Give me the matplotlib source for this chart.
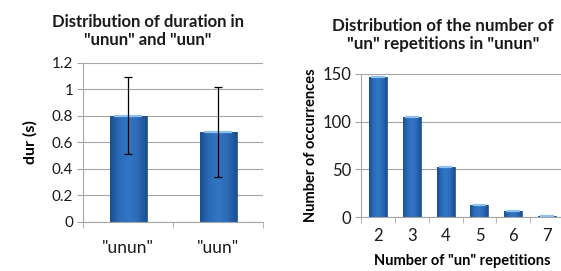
import matplotlib
matplotlib.use("Agg")
import matplotlib.pyplot as plt
import numpy as np
from matplotlib.colors import LinearSegmentedColormap

plt.rcParams["font.family"] = ["Lato", "DejaVu Sans"]

# Left chart data
dur_labels = ['"unun"', '"uun"']
dur_means = [0.80, 0.68]
dur_err = [0.29, 0.34]

# Right chart data
rep_labels = ["2", "3", "4", "5", "6", "7"]
rep_counts = [147, 105, 53, 13, 6, 1]

EDGE = "#1d4f8f"
GRID = "#a6a6a6"
TEXT = "#1a1a1a"

# horizontal shading across a bar, Excel-like
BAR_CMAP = LinearSegmentedColormap.from_list(
    "bar", ["#1c4f90", "#2c6bb8", "#3276c4", "#2c6bb8", "#1c4f90"])

fig = plt.figure(figsize=(5.61, 2.71), dpi=100)
fig.patch.set_facecolor("white")


def shade_bars(ax, bars):
    grad = np.linspace(0, 1, 64).reshape(1, -1)
    for b in bars:
        x0, y0 = b.get_x(), b.get_y()
        w, h = b.get_width(), b.get_height()
        im = ax.imshow(grad, cmap=BAR_CMAP, aspect="auto",
                       extent=[x0, x0 + w, y0, y0 + h], zorder=2)
        im.set_clip_path(b)
        b.set_facecolor("none")
        # light highlight along the top of each bar
        ax.plot([x0 + w * 0.12, x0 + w * 0.88], [y0 + h, y0 + h],
                color="#8fc0ee", linewidth=1.6, solid_capstyle="butt", zorder=3)


def style_axes(ax, n, pad):
    for s in ["top", "right"]:
        ax.spines[s].set_visible(False)
    for s in ["left", "bottom"]:
        ax.spines[s].set_color(GRID)
        ax.spines[s].set_linewidth(0.8)
    ax.yaxis.grid(True, color=GRID, linewidth=0.8)
    ax.set_axisbelow(True)
    ax.set_xlim(-0.5, n - 0.5)
    # category boundary ticks
    ax.set_xticks(np.arange(n + 1) - 0.5, minor=True)
    ax.tick_params(axis="x", which="major", length=0, pad=pad)
    ax.tick_params(axis="x", which="minor", length=4, color=GRID, direction="out")
    ax.tick_params(axis="y", length=4, color=GRID, labelcolor=TEXT, pad=3)


# Left: duration
ax1 = fig.add_axes([0.148, 0.181, 0.321, 0.587])
x1 = np.arange(len(dur_labels))
bars1 = ax1.bar(x1, dur_means, width=0.41, edgecolor=EDGE, linewidth=0.6, zorder=2)
style_axes(ax1, len(dur_labels), pad=13)
ax1.set_ylim(0, 1.2)
shade_bars(ax1, bars1)
ax1.errorbar(x1, dur_means, yerr=dur_err, fmt="none", ecolor="black",
             elinewidth=0.9, capsize=3, capthick=0.9, zorder=4)
ax1.set_yticks([0, 0.2, 0.4, 0.6, 0.8, 1.0, 1.2])
ax1.set_yticklabels(["0", "0.2", "0.4", "0.6", "0.8", "1", "1.2"], fontsize=11)
ax1.set_xticks(x1)
ax1.set_xticklabels(dur_labels, fontsize=12.5, color=TEXT)
ax1.set_ylabel("dur (s)", fontsize=11.5, fontweight="bold", labelpad=10)
fig.text(0.263, 0.95, 'Distribution of duration in\n"unun" and "uun"',
         ha="center", va="top", fontsize=12, fontweight="bold",
         linespacing=1.2, color=TEXT)

# Right: repetitions
ax2 = fig.add_axes([0.6435, 0.199, 0.362, 0.528])
x2 = np.arange(len(rep_labels))
bars2 = ax2.bar(x2, rep_counts, width=0.53, edgecolor=EDGE, linewidth=0.6, zorder=2)
style_axes(ax2, len(rep_labels), pad=8)
ax2.set_ylim(0, 150)
shade_bars(ax2, bars2)
ax2.set_yticks([0, 50, 100, 150])
ax2.tick_params(axis="y", labelsize=12)
ax2.set_xticks(x2)
ax2.set_xticklabels(rep_labels, fontsize=12, color=TEXT)
ax2.set_ylabel("Number of occurrences", fontsize=10.5, fontweight="bold", labelpad=3)
ax2.set_xlabel('Number of "un" repetitions', fontsize=10.5, fontweight="bold", labelpad=7)
fig.text(0.79, 0.935, 'Distribution of the number of\n"un" repetitions in "unun"',
         ha="center", va="top", fontsize=12.2, fontweight="bold",
         linespacing=1.2, color=TEXT)

fig.savefig("out.png", dpi=100, facecolor="white")
